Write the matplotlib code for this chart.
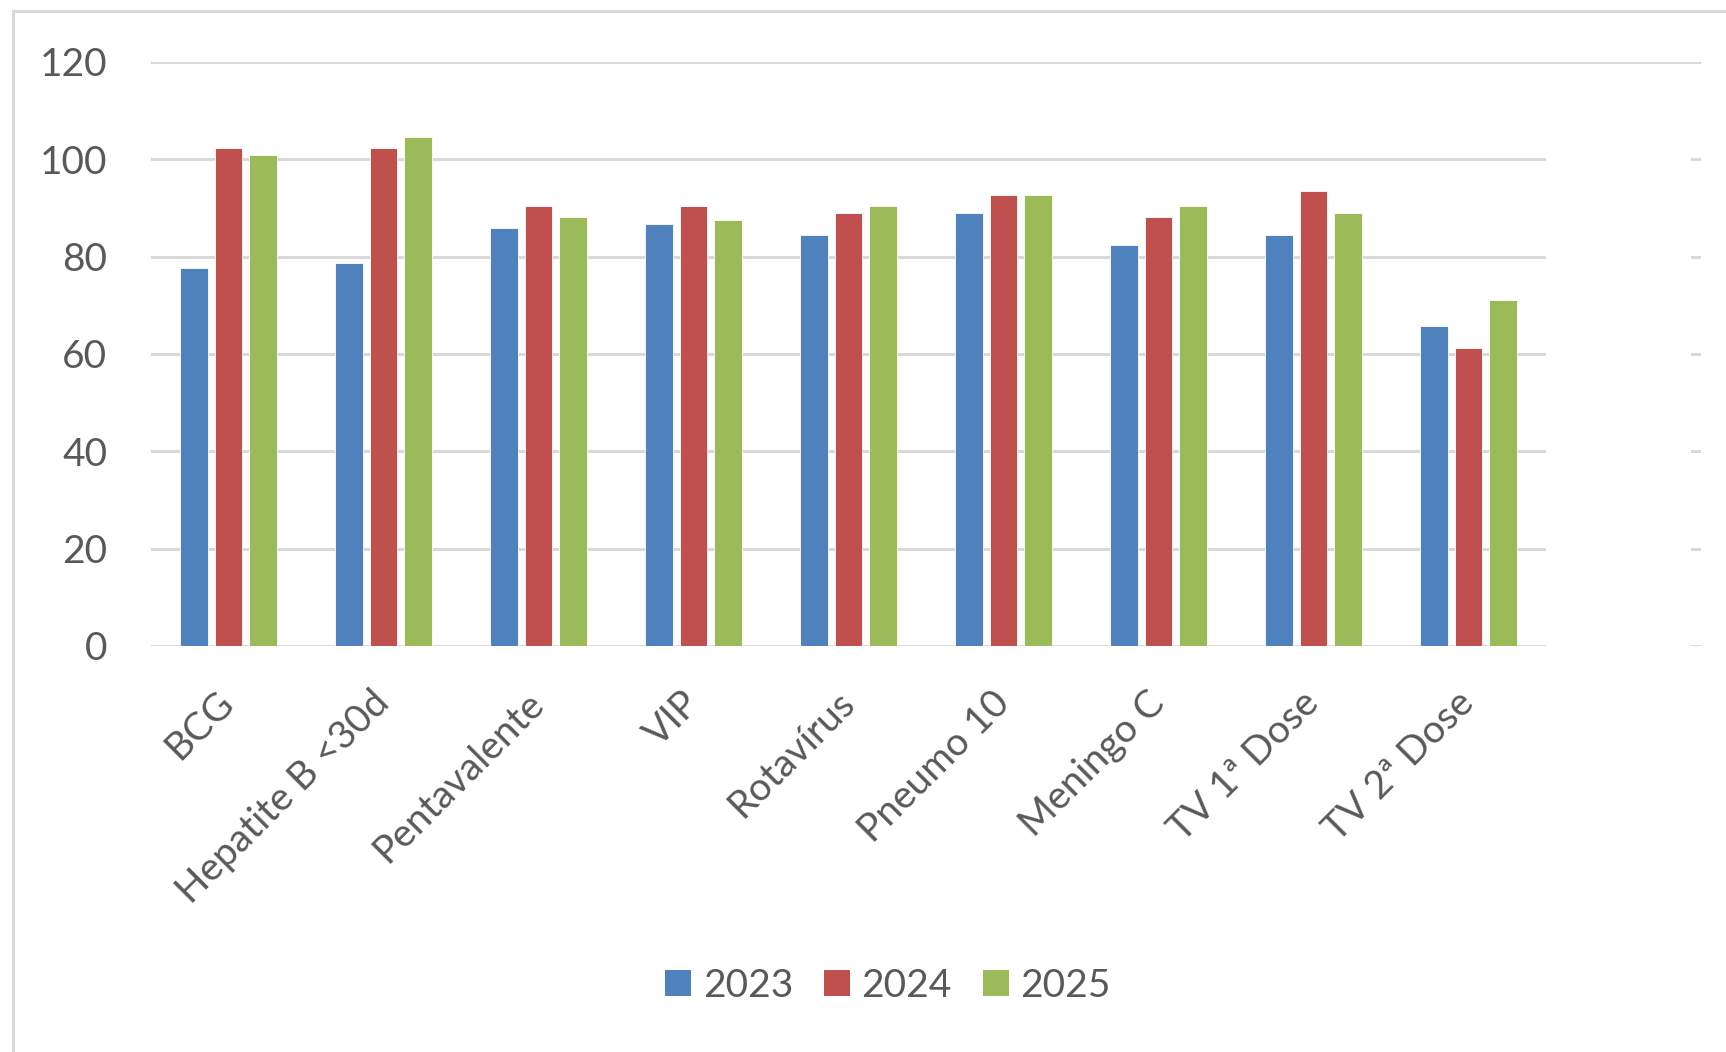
import matplotlib
matplotlib.use("Agg")
import matplotlib.pyplot as plt
from matplotlib.patches import Rectangle, Patch
from matplotlib.lines import Line2D
import numpy as np

categories = ["BCG", "Hepatite B <30d", "Pentavalente", "VIP", "Rotavírus",
              "Pneumo 10", "Meningo C", "TV 1ª Dose", "TV 2ª Dose"]
years = ["2023", "2024", "2025"]
v2023 = [77.7, 78.6, 85.9, 86.7, 84.5, 89.0, 82.3, 84.5, 65.8]
v2024 = [102.4, 102.4, 90.5, 90.5, 89.0, 92.7, 88.2, 93.5, 61.3]
v2025 = [100.9, 104.6, 88.2, 87.5, 90.5, 92.7, 90.5, 89.0, 71.1]
yticks = [0, 20, 40, 60, 80, 100, 120]

colors = ["#4F81BD", "#C0504D", "#9BBB59"]
TXT = "#595959"
GRID = "#D9D9D9"
FONT = ["Lato", "DejaVu Sans"]
FS = 28

plt.rcParams["font.family"] = FONT

W, H = 1726, 1052
fig = plt.figure(figsize=(W / 100, H / 100), dpi=100)
fig.patch.set_facecolor("white")

def fx(px):
    return px / W

def fy(py):
    return 1 - py / H

ax = fig.add_axes([fx(151), fy(646), fx(1701) - fx(151), fy(62) - fy(646)])
x = np.arange(len(categories))
bw = 0.18
step = 0.222
for i, (vals, c, lab) in enumerate(zip([v2023, v2024, v2025], colors, years)):
    ax.bar(x + (i - 1) * step, vals, width=bw, color=c, edgecolor="white",
           linewidth=0.6, label=lab, zorder=3)

ax.set_xlim(-0.5, 9.5)
ax.set_ylim(0, 120)
ax.set_yticks(yticks)
ax.set_yticklabels([str(t) for t in yticks], fontsize=FS, color=TXT)
ax.yaxis.grid(True, color=GRID, linewidth=2.2, zorder=0)
ax.set_axisbelow(True)
for s in ax.spines.values():
    s.set_visible(False)
ax.tick_params(axis="y", length=0, pad=31.5)
ax.tick_params(axis="x", length=0, pad=37)
ax.set_xticks(x)
ax.set_xticklabels(categories, fontsize=FS, color=TXT, rotation=45,
                   ha="right", va="center", rotation_mode="anchor")

# white box covering empty right part of the plot area
fig.patches.append(Rectangle((fx(1546), fy(1052)), fx(1691) - fx(1546),
                             fy(158.0) - fy(1052), transform=fig.transFigure,
                             facecolor="white", edgecolor="none", zorder=10))

# chart border (left and top)
fig.lines.append(Line2D([fx(12.5), fx(12.5), fx(1730)], [fy(1060), fy(10.8), fy(10.8)],
                        transform=fig.transFigure, color=GRID, linewidth=2.2,
                        solid_joinstyle="miter"))

handles = [Patch(facecolor=c, edgecolor="none", label=l) for c, l in zip(colors, years)]
fig.legend(handles=handles, loc="center", bbox_to_anchor=(fx(888), fy(986)),
           ncol=3, frameon=False, fontsize=FS, labelcolor=TXT,
           handlelength=0.66, handleheight=0.66, handletextpad=0.3,
           columnspacing=0.8, borderpad=0, borderaxespad=0)

fig.savefig("out.png", dpi=100, facecolor="white")
